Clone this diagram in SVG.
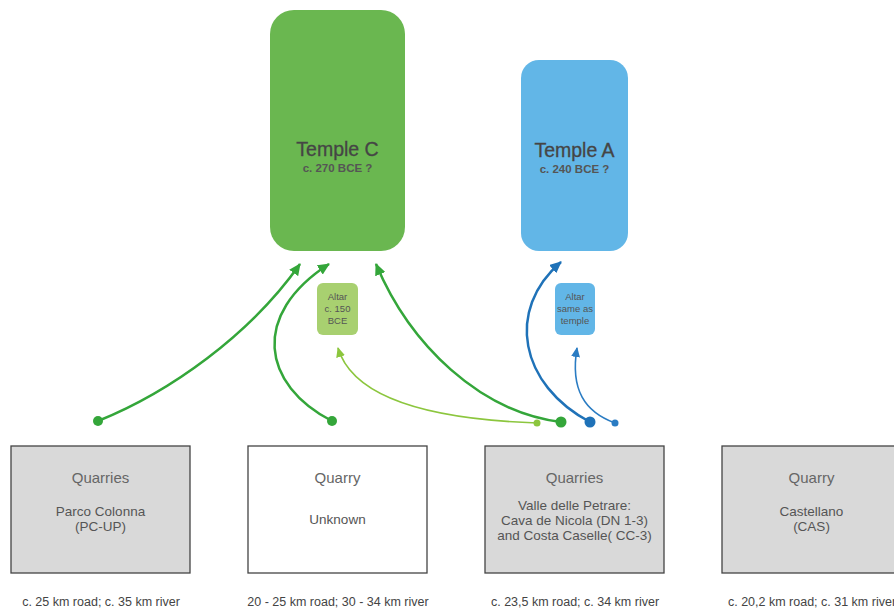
<svg xmlns="http://www.w3.org/2000/svg" width="894" height="609" viewBox="0 0 894 609">
<defs>
<style>
text{font-family:"Liberation Sans",Arial,sans-serif;fill:#555;text-anchor:middle}
.tt{font-size:19.5px;fill:#454545;stroke:#454545;stroke-width:0.3}
.ts{font-size:11.5px;font-weight:bold;fill:#555}
.al{font-size:9.5px;fill:#555}
.qt{font-size:15px;fill:#666}
.qs{font-size:13.5px;fill:#555}
.cap{font-size:12.5px;fill:#444}
.qbox{stroke:#444;stroke-width:1.3}
.g{fill:none;stroke:#34a63a;stroke-width:2.5}
.lg{fill:none;stroke:#8cc63e;stroke-width:1.6}
.b{fill:none;stroke:#1f72b8;stroke-width:2.5}
.lb{fill:none;stroke:#2a7cc3;stroke-width:1.6}
</style>
<marker id="ag" markerUnits="userSpaceOnUse" markerWidth="12" markerHeight="11" viewBox="0 0 12 11" refX="11" refY="5.5" orient="auto"><path d="M0,0 L12,5.5 L0,11 z" fill="#34a63a"/></marker>
<marker id="alg" markerUnits="userSpaceOnUse" markerWidth="10" markerHeight="9" viewBox="0 0 10 9" refX="9" refY="4.5" orient="auto"><path d="M0,0 L10,4.5 L0,9 z" fill="#8cc63e"/></marker>
<marker id="ab" markerUnits="userSpaceOnUse" markerWidth="12" markerHeight="11" viewBox="0 0 12 11" refX="11" refY="5.5" orient="auto"><path d="M0,0 L12,5.5 L0,11 z" fill="#1f72b8"/></marker>
<marker id="alb" markerUnits="userSpaceOnUse" markerWidth="10" markerHeight="9" viewBox="0 0 10 9" refX="9" refY="4.5" orient="auto"><path d="M0,0 L10,4.5 L0,9 z" fill="#2a7cc3"/></marker>
</defs>
<rect width="894" height="609" fill="#fff"/>

<g id="templeC">
<rect x="270" y="10" width="135" height="241" rx="24" fill="#6ab750"/>
<text class="tt" x="337.5" y="156">Temple C</text>
<text class="ts" x="337.5" y="172">c. 270 BCE ?</text>
</g>
<g id="templeA">
<rect x="521" y="60" width="107" height="191" rx="18" fill="#62b6e7"/>
<text class="tt" x="574.5" y="157">Temple A</text>
<text class="ts" x="574.5" y="173">c. 240 BCE ?</text>
</g>
<g id="altarC">
<rect x="317" y="283" width="41" height="52" rx="6" fill="#a8d070"/>
<text class="al" x="337.5" y="300">Altar</text>
<text class="al" x="337.5" y="312">c. 150</text>
<text class="al" x="337.5" y="324">BCE</text>
</g>
<g id="altarA">
<rect x="555" y="283" width="40" height="52" rx="6" fill="#62b6e7"/>
<text class="al" x="575" y="300">Altar</text>
<text class="al" x="575" y="312">same as</text>
<text class="al" x="575" y="324">temple</text>
</g>

<g id="q1">
<rect class="qbox" x="11" y="446" width="179" height="127" fill="#d9d9d9"/>
<text class="qt" x="100.5" y="483">Quarries</text>
<text class="qs" x="100.5" y="516">Parco Colonna</text>
<text class="qs" x="100.5" y="531">(PC-UP)</text>
<text class="cap" x="101" y="606">c. 25 km road; c. 35 km river</text>
</g>
<g id="q2">
<rect class="qbox" x="248" y="446" width="179" height="127" fill="#fff"/>
<text class="qt" x="337.5" y="483">Quarry</text>
<text class="qs" x="337.5" y="524">Unknown</text>
<text class="cap" x="338" y="606">20 - 25 km road; 30 - 34 km river</text>
</g>
<g id="q3">
<rect class="qbox" x="485" y="446" width="179" height="127" fill="#d9d9d9"/>
<text class="qt" x="574.5" y="483">Quarries</text>
<text class="qs" x="574.5" y="510">Valle delle Petrare:</text>
<text class="qs" x="574.5" y="525">Cava de Nicola (DN 1-3)</text>
<text class="qs" x="574.5" y="540">and Costa Caselle( CC-3)</text>
<text class="cap" x="575" y="606">c. 23,5 km road; c. 34 km river</text>
</g>
<g id="q4">
<rect class="qbox" x="722" y="446" width="179" height="127" fill="#d9d9d9"/>
<text class="qt" x="811.5" y="483">Quarry</text>
<text class="qs" x="811.5" y="516">Castellano</text>
<text class="qs" x="811.5" y="531">(CAS)</text>
<text class="cap" x="812" y="606">c. 20,2 km road; c. 31 km river</text>
</g>

<g id="connectors">
<path class="g" d="M98,421 C170,392 250,335 300,264" marker-end="url(#ag)"/>
<path class="g" d="M332,421 C262,385 250,315 329,264" marker-end="url(#ag)"/>
<path class="g" d="M561,422 C480,412 410,345 376,264" marker-end="url(#ag)"/>
<path class="lg" d="M537,423 C450,420 355,405 338,348" marker-end="url(#alg)"/>
<path class="b" d="M590,422 C520,385 505,310 561,262" marker-end="url(#ab)"/>
<path class="lb" d="M615,423 C585,412 570,390 577,348" marker-end="url(#alb)"/>
<circle cx="98" cy="421" r="5" fill="#34a63a"/>
<circle cx="332" cy="421" r="5" fill="#34a63a"/>
<circle cx="561" cy="422" r="5.5" fill="#34a63a"/>
<circle cx="537" cy="423" r="3.5" fill="#8cc63e"/>
<circle cx="590" cy="422" r="5.5" fill="#1f72b8"/>
<circle cx="615" cy="423" r="3.5" fill="#2a7cc3"/>
</g>
</svg>
